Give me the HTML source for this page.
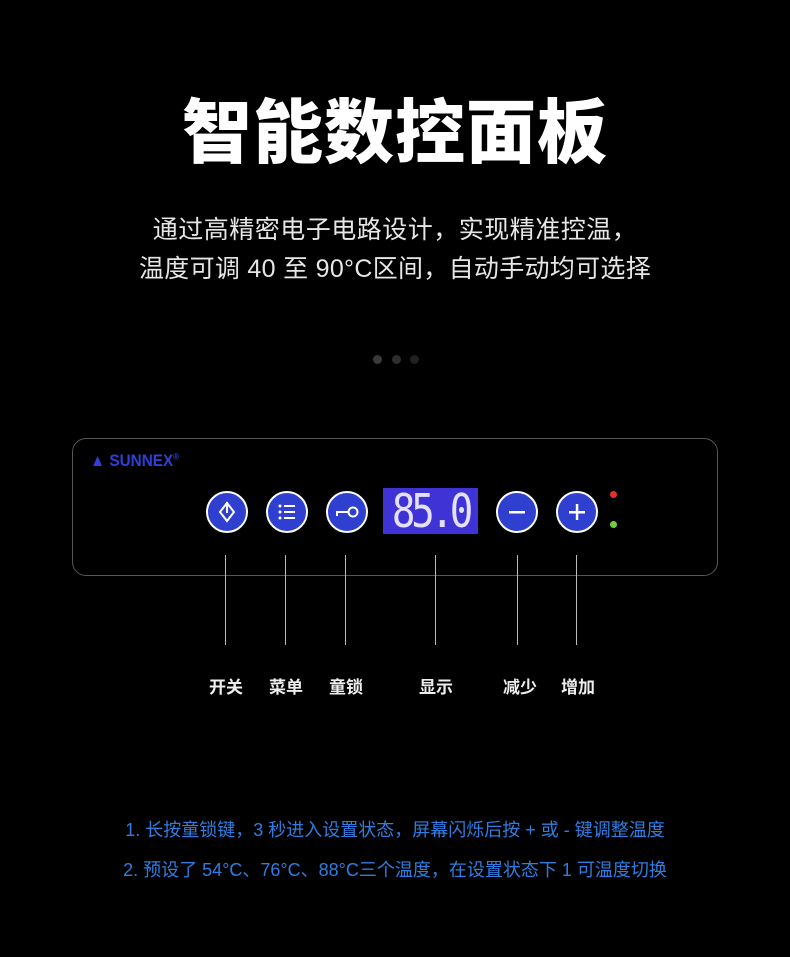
<!DOCTYPE html>
<html><head><meta charset="utf-8"><style>
html,body{margin:0;padding:0;background:#000;}
body{width:790px;height:957px;position:relative;overflow:hidden;font-family:"Liberation Sans","Noto Sans CJK SC",sans-serif;}
.a{position:absolute;}
.t{left:0;width:790px;text-align:center;}
.btn{position:absolute;width:38px;height:38px;border:2px solid #fff;border-radius:50%;background:#2f3fcf;top:491px;box-sizing:content-box;}
.ln{position:absolute;top:555px;width:1px;height:90px;background:#bbb;}
.lb{position:absolute;top:673px;font-size:17px;color:#eee;font-weight:bold;width:60px;text-align:center;}
.bl{left:0;width:790px;text-align:center;font-size:18px;color:#2f7de0;}
</style></head><body>
<div class="a t" style="top:92px;font-size:70px;font-weight:900;color:#fff;line-height:82px;letter-spacing:1px;">智能数控面板</div>
<div class="a t" style="top:214px;font-size:25px;color:#e6e6e6;line-height:32px;letter-spacing:0.5px;">通过高精密电子电路设计，实现精准控温，</div>
<div class="a t" style="top:253px;font-size:25px;color:#e6e6e6;line-height:32px;letter-spacing:0.3px;">温度可调 40 至 90°C区间，自动手动均可选择</div>
<div class="a" style="left:373px;top:355px;width:9px;height:9px;border-radius:50%;background:#3a3a3a"></div>
<div class="a" style="left:392px;top:355px;width:9px;height:9px;border-radius:50%;background:#2e2e2e"></div>
<div class="a" style="left:410px;top:355px;width:9px;height:9px;border-radius:50%;background:#202020"></div>
<div class="a" style="left:72px;top:438px;width:644px;height:136px;border:1.5px solid #555;border-radius:14px;"></div>
<div class="a" style="left:90px;top:451px;font-size:17px;font-weight:bold;color:#2f3fd8;transform:scaleX(0.9);transform-origin:left;">▲ SUNNEX<sup style="font-size:9px">®</sup></div>
<div class="btn" style="left:206px;"><svg width="38" height="38"><path d="M19 10 L26 19 L19 28 L12 19 Z" fill="none" stroke="#fff" stroke-width="2"/><line x1="19" y1="9" x2="19" y2="20" stroke="#fff" stroke-width="2"/></svg></div>
<div class="btn" style="left:266px;"><svg width="38" height="38"><g fill="#fff"><circle cx="12" cy="13" r="1.5"/><circle cx="12" cy="19" r="1.5"/><circle cx="12" cy="25" r="1.5"/><rect x="16" y="12" width="11" height="2"/><rect x="16" y="18" width="11" height="2"/><rect x="16" y="24" width="11" height="2"/></g></svg></div>
<div class="btn" style="left:326px;"><svg width="38" height="38"><rect x="8" y="18" width="13" height="2" fill="#fff"/><rect x="8" y="18" width="2" height="5" fill="#fff"/><circle cx="25" cy="19" r="4.5" fill="none" stroke="#fff" stroke-width="2"/></svg></div>
<div class="a" style="left:383px;top:488px;width:95px;height:46px;background:#3f33d6;overflow:hidden;"><div style="color:#e4e0ff;font-family:'DejaVu Sans Mono',monospace;font-size:46px;line-height:46px;width:95px;text-align:center;letter-spacing:-5px;transform:scaleX(0.85);">85.0</div></div>
<div class="btn" style="left:496px;"><svg width="38" height="38"><rect x="11" y="18" width="16" height="2.5" fill="#fff"/></svg></div>
<div class="btn" style="left:556px;"><svg width="38" height="38"><rect x="11" y="18" width="16" height="2.5" fill="#fff"/><rect x="17.8" y="11" width="2.5" height="16" fill="#fff"/></svg></div>
<div class="a" style="left:610px;top:491px;width:7px;height:7px;border-radius:50%;background:#e8302a"></div>
<div class="a" style="left:610px;top:521px;width:7px;height:7px;border-radius:50%;background:#6cd23a"></div>
<div class="ln" style="left:225px"></div><div class="ln" style="left:285px"></div><div class="ln" style="left:345px"></div>
<div class="ln" style="left:435px"></div><div class="ln" style="left:517px"></div><div class="ln" style="left:576px"></div>
<div class="lb" style="left:196px">开关</div><div class="lb" style="left:256px">菜单</div><div class="lb" style="left:316px">童锁</div>
<div class="lb" style="left:406px">显示</div><div class="lb" style="left:490px">减少</div><div class="lb" style="left:548px">增加</div>
<div class="a bl" style="top:816px;">1. 长按童锁键，3 秒进入设置状态，屏幕闪烁后按 + 或 - 键调整温度</div>
<div class="a bl" style="top:856px;">2. 预设了 54°C、76°C、88°C三个温度，在设置状态下 1 可温度切换</div>
</body></html>
